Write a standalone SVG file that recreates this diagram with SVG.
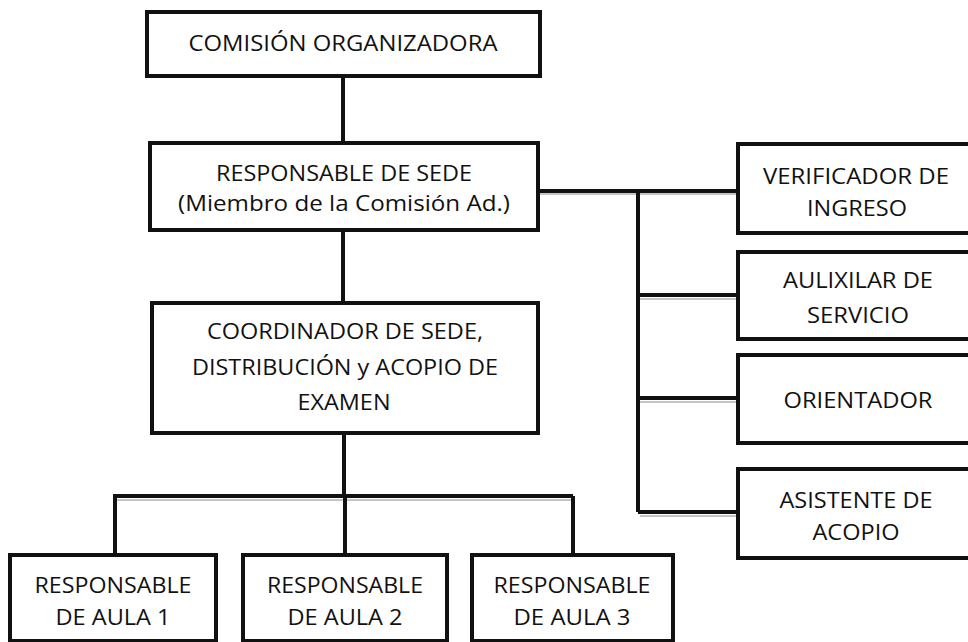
<svg xmlns="http://www.w3.org/2000/svg" width="968" height="642" viewBox="0 0 968 642">
<style>
.box{fill:#fff;stroke:#111;stroke-width:4}
.t{font-family:"Open Sans","Noto Sans","Liberation Sans",sans-serif;font-size:22px;fill:#111;text-anchor:middle}
.c{fill:none;stroke:#111;stroke-width:4;stroke-linejoin:miter}
.s{fill:none;stroke:#c4c4c4;stroke-width:2}
</style>
<rect width="968" height="642" fill="#fff"/>
<g id="connectors">
<path class="s" d="M540 194H636M640 194H736M640 299H736M640 402H736M640 516H736M115 500H571"/>
<path class="c" d="M343 76V143"/>
<path class="c" d="M343 230V303"/>
<path class="c" d="M538 191H638M638 191V512M638 191H738M638 295H738M638 398H738M638 512H738"/>
<path class="c" d="M344 433V496M113 496H573M115 496V555M345 496V555M573 496V555"/>
</g>
<g id="comision">
<rect class="box" x="147" y="12" width="393" height="64"/>
<text class="t" x="343" y="51" textLength="309" lengthAdjust="spacingAndGlyphs">COMISIÓN ORGANIZADORA</text>
</g>
<g id="responsable-sede">
<rect class="box" x="150" y="143" width="388" height="87"/>
<text class="t" x="344" y="181" textLength="256" lengthAdjust="spacingAndGlyphs">RESPONSABLE DE SEDE</text>
<text class="t" x="344" y="211" textLength="332" lengthAdjust="spacingAndGlyphs">(Miembro de la Comisión Ad.)</text>
</g>
<g id="coordinador">
<rect class="box" x="152" y="303" width="386" height="130"/>
<text class="t" x="345" y="339" textLength="276" lengthAdjust="spacingAndGlyphs">COORDINADOR DE SEDE,</text>
<text class="t" x="345" y="375" textLength="306" lengthAdjust="spacingAndGlyphs">DISTRIBUCIÓN y ACOPIO DE</text>
<text class="t" x="344" y="410" textLength="93" lengthAdjust="spacingAndGlyphs">EXAMEN</text>
</g>
<g id="verificador">
<rect class="box" x="738" y="144" width="240" height="89"/>
<text class="t" x="856" y="184" textLength="186" lengthAdjust="spacingAndGlyphs">VERIFICADOR DE</text>
<text class="t" x="857" y="216" textLength="100" lengthAdjust="spacingAndGlyphs">INGRESO</text>
</g>
<g id="auxiliar">
<rect class="box" x="738" y="252" width="240" height="87"/>
<text class="t" x="858" y="288" textLength="150" lengthAdjust="spacingAndGlyphs">AULIXILAR DE</text>
<text class="t" x="858" y="323" textLength="102" lengthAdjust="spacingAndGlyphs">SERVICIO</text>
</g>
<g id="orientador">
<rect class="box" x="738" y="355" width="240" height="88"/>
<text class="t" x="858" y="408" textLength="149" lengthAdjust="spacingAndGlyphs">ORIENTADOR</text>
</g>
<g id="asistente">
<rect class="box" x="738" y="469" width="240" height="89"/>
<text class="t" x="856" y="508" textLength="153" lengthAdjust="spacingAndGlyphs">ASISTENTE DE</text>
<text class="t" x="856" y="540" textLength="87" lengthAdjust="spacingAndGlyphs">ACOPIO</text>
</g>
<g id="aula1">
<rect class="box" x="10" y="555" width="206" height="86"/>
<text class="t" x="113" y="593" textLength="157" lengthAdjust="spacingAndGlyphs">RESPONSABLE</text>
<text class="t" x="113" y="625" textLength="115" lengthAdjust="spacingAndGlyphs">DE AULA 1</text>
</g>
<g id="aula2">
<rect class="box" x="243" y="555" width="204" height="86"/>
<text class="t" x="345" y="593" textLength="156" lengthAdjust="spacingAndGlyphs">RESPONSABLE</text>
<text class="t" x="345" y="625" textLength="115" lengthAdjust="spacingAndGlyphs">DE AULA 2</text>
</g>
<g id="aula3">
<rect class="box" x="472" y="555" width="201" height="86"/>
<text class="t" x="572" y="593" textLength="157" lengthAdjust="spacingAndGlyphs">RESPONSABLE</text>
<text class="t" x="572" y="625" textLength="117" lengthAdjust="spacingAndGlyphs">DE AULA 3</text>
</g>
</svg>
